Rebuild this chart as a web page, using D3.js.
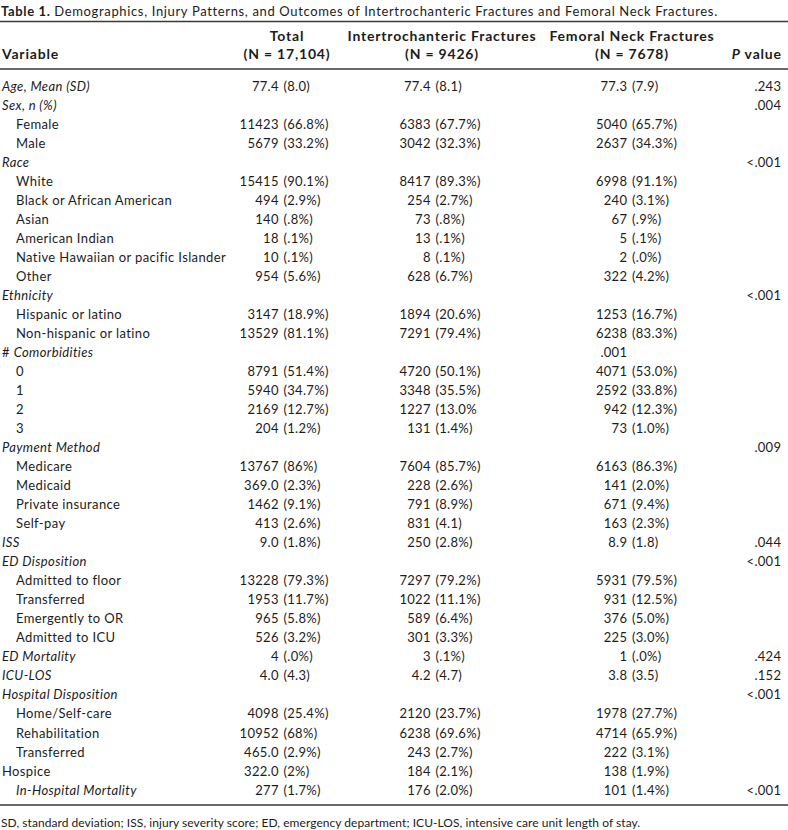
<!DOCTYPE html>
<html>
<head>
<meta charset="utf-8">
<script src="https://cdn.jsdelivr.net/npm/d3@7"></script>
<style>
  html, body { margin: 0; padding: 0; background: #fff; }
  svg { display: block; }
  text { font-family: Lato, "Open Sans", sans-serif; fill: #1c1c1c; }
</style>
</head>
<body>
<div id="chart"></div>
<script>
// ---------- DATA ----------
const titleBold = "Table 1.";
const titleText = "Demographics, Injury Patterns, and Outcomes of Intertrochanteric Fractures and Femoral Neck Fractures.";
const columnNames = ["Total", "Intertrochanteric Fractures", "Femoral Neck Fractures"];
const columnNs = ["(N = 17,104)", "(N = 9426)", "(N = 7678)"];
const footnote = "SD, standard deviation; ISS, injury severity score; ED, emergency department; ICU-LOS, intensive care unit length of stay.";

const variables = [
  "Age, Mean (SD)", "Sex, n (%)", "Female", "Male", "Race", "White",
  "Black or African American", "Asian", "American Indian",
  "Native Hawaiian or pacific Islander", "Other", "Ethnicity",
  "Hispanic or latino", "Non-hispanic or latino", "# Comorbidities",
  "0", "1", "2", "3", "Payment Method", "Medicare", "Medicaid",
  "Private insurance", "Self-pay", "ISS", "ED Disposition",
  "Admitted to floor", "Transferred", "Emergently to OR", "Admitted to ICU",
  "ED Mortality", "ICU-LOS", "Hospital Disposition", "Home/Self-care",
  "Rehabilitation", "Transferred", "Hospice", "In-Hospital Mortality"
];
// row kind: g = group heading (italic), i = indented item, gi = indented italic, p = plain
const rowKinds = [
  "g", "g", "i", "i", "g", "i", "i", "i", "i", "i", "i", "g",
  "i", "i", "g", "i", "i", "i", "i", "g", "i", "i", "i", "i", "g", "g",
  "i", "i", "i", "i", "g", "g", "g", "i", "i", "i", "p", "gi"
];
const totalValues = [
  "77.4 (8.0)", "", "11423 (66.8%)", "5679 (33.2%)", "", "15415 (90.1%)",
  "494 (2.9%)", "140 (.8%)", "18 (.1%)", "10 (.1%)", "954 (5.6%)", "",
  "3147 (18.9%)", "13529 (81.1%)", "", "8791 (51.4%)", "5940 (34.7%)",
  "2169 (12.7%)", "204 (1.2%)", "", "13767 (86%)", "369.0 (2.3%)",
  "1462 (9.1%)", "413 (2.6%)", "9.0 (1.8%)", "", "13228 (79.3%)",
  "1953 (11.7%)", "965 (5.8%)", "526 (3.2%)", "4 (.0%)", "4.0 (4.3)", "",
  "4098 (25.4%)", "10952 (68%)", "465.0 (2.9%)", "322.0 (2%)", "277 (1.7%)"
];
const intertrochantericValues = [
  "77.4 (8.1)", "", "6383 (67.7%)", "3042 (32.3%)", "", "8417 (89.3%)",
  "254 (2.7%)", "73 (.8%)", "13 (.1%)", "8 (.1%)", "628 (6.7%)", "",
  "1894 (20.6%)", "7291 (79.4%)", "", "4720 (50.1%)", "3348 (35.5%)",
  "1227 (13.0%", "131 (1.4%)", "", "7604 (85.7%)", "228 (2.6%)",
  "791 (8.9%)", "831 (4.1)", "250 (2.8%)", "", "7297 (79.2%)",
  "1022 (11.1%)", "589 (6.4%)", "301 (3.3%)", "3 (.1%)", "4.2 (4.7)", "",
  "2120 (23.7%)", "6238 (69.6%)", "243 (2.7%)", "184 (2.1%)", "176 (2.0%)"
];
const femoralNeckValues = [
  "77.3 (7.9)", "", "5040 (65.7%)", "2637 (34.3%)", "", "6998 (91.1%)",
  "240 (3.1%)", "67 (.9%)", "5 (.1%)", "2 (.0%)", "322 (4.2%)", "",
  "1253 (16.7%)", "6238 (83.3%)", ".001", "4071 (53.0%)", "2592 (33.8%)",
  "942 (12.3%)", "73 (1.0%)", "", "6163 (86.3%)", "141 (2.0%)",
  "671 (9.4%)", "163 (2.3%)", "8.9 (1.8)", "", "5931 (79.5%)",
  "931 (12.5%)", "376 (5.0%)", "225 (3.0%)", "1 (.0%)", "3.8 (3.5)", "",
  "1978 (27.7%)", "4714 (65.9%)", "222 (3.1%)", "138 (1.9%)", "101 (1.4%)"
];
const pValues = [
  ".243", ".004", "", "", "<.001", "", "", "", "", "", "", "<.001",
  "", "", "", "", "", "", "", ".009", "", "", "", "", ".044", "<.001",
  "", "", "", "", ".424", ".152", "<.001", "", "", "", "", "<.001"
];

// ---------- LAYOUT ----------
const W = 788, H = 830;
const fs = 13;
const ls = "0.38px";     // letter spacing for body text
const hfs = 14;          // header bold size
const hls = "0.8px";
const svg = d3.select("#chart").append("svg").attr("width", W).attr("height", H);

// title
const title = svg.append("text").attr("x", 1).attr("y", 16).style("font-size", "13px").style("letter-spacing", "0.65px");
title.append("tspan").style("font-weight", 700).text(titleBold + " ");
title.append("tspan").text(titleText);

// rules
const rule = (yy) => svg.append("line").attr("x1", 0).attr("x2", W).attr("y1", yy).attr("y2", yy)
  .attr("stroke", "#3a3a3a").attr("stroke-width", 1.4);
rule(21.5); rule(69); rule(805);

// column scales
const colKeys = ["total", "inter", "fem"];
const colCenter = d3.scaleOrdinal().domain(colKeys).range([287, 442, 632]);
const colAnchor = d3.scaleOrdinal().domain(colKeys).range([278.5, 430.5, 627]);
const pRight = 781;

// header
const hdr = (sel) => sel.style("font-size", hfs + "px").style("font-weight", 700).style("letter-spacing", hls);
hdr(svg.append("text").attr("x", 2).attr("y", 59)).text("Variable");
colKeys.forEach((k, i) => {
  hdr(svg.append("text").attr("x", colCenter(k)).attr("y", 41).attr("text-anchor", "middle")).text(columnNames[i]);
  hdr(svg.append("text").attr("x", colCenter(k)).attr("y", 59).attr("text-anchor", "middle")).text(columnNs[i]);
});
const pv = hdr(svg.append("text").attr("x", pRight + 0.8).attr("y", 59).attr("text-anchor", "end"));
pv.append("tspan").style("font-style", "italic").text("P");
pv.append("tspan").text(" value");

// rows
const y = d3.scalePoint().domain(d3.range(variables.length)).range([86, 790]);
const base = 4.6;

const rows = svg.append("g").selectAll("g").data(variables.map((v, i) => ({
  label: v, kind: rowKinds[i], i,
  cells: [totalValues[i], intertrochantericValues[i], femoralNeckValues[i]], p: pValues[i]
}))).join("g").attr("transform", d => `translate(0,${y(d.i) + base})`);

rows.each(function(d) {
  const g = d3.select(this);
  const indent = (d.kind === "i" || d.kind === "gi") ? 16 : 2;
  const t = g.append("text").attr("x", indent).attr("y", 0).style("font-size", fs + "px").style("letter-spacing", ls);
  if (d.kind === "g" || d.kind === "gi") {
    if (d.label.startsWith("# ")) {
      t.append("tspan").text("# ");
      t.append("tspan").style("font-style", "italic").text(d.label.slice(2));
    } else {
      t.style("font-style", "italic").text(d.label);
    }
  } else {
    t.text(d.label);
  }
  d.cells.forEach((c, ci) => {
    if (!c) return;
    const k = colKeys[ci];
    const idx = c.indexOf(" (");
    const num = idx >= 0 ? c.slice(0, idx) : c;
    const par = idx >= 0 ? c.slice(idx + 1) : "";
    g.append("text").attr("x", colAnchor(k) + 0.3).attr("y", 0).attr("text-anchor", "end")
      .style("font-size", fs + "px").style("letter-spacing", "0.3px").text(num);
    if (par) g.append("text").attr("x", colAnchor(k) + 5).attr("y", 0)
      .style("font-size", fs + "px").style("letter-spacing", "0.3px").text(par);
  });
  if (d.p) g.append("text").attr("x", pRight + 0.3).attr("y", 0).attr("text-anchor", "end")
    .style("font-size", fs + "px").style("letter-spacing", "0.3px").text(d.p);
});

// footnote
svg.append("text").attr("x", 1).attr("y", 827).style("font-size", "12px").style("letter-spacing", "0.05px").text(footnote);
</script>
</body>
</html>
